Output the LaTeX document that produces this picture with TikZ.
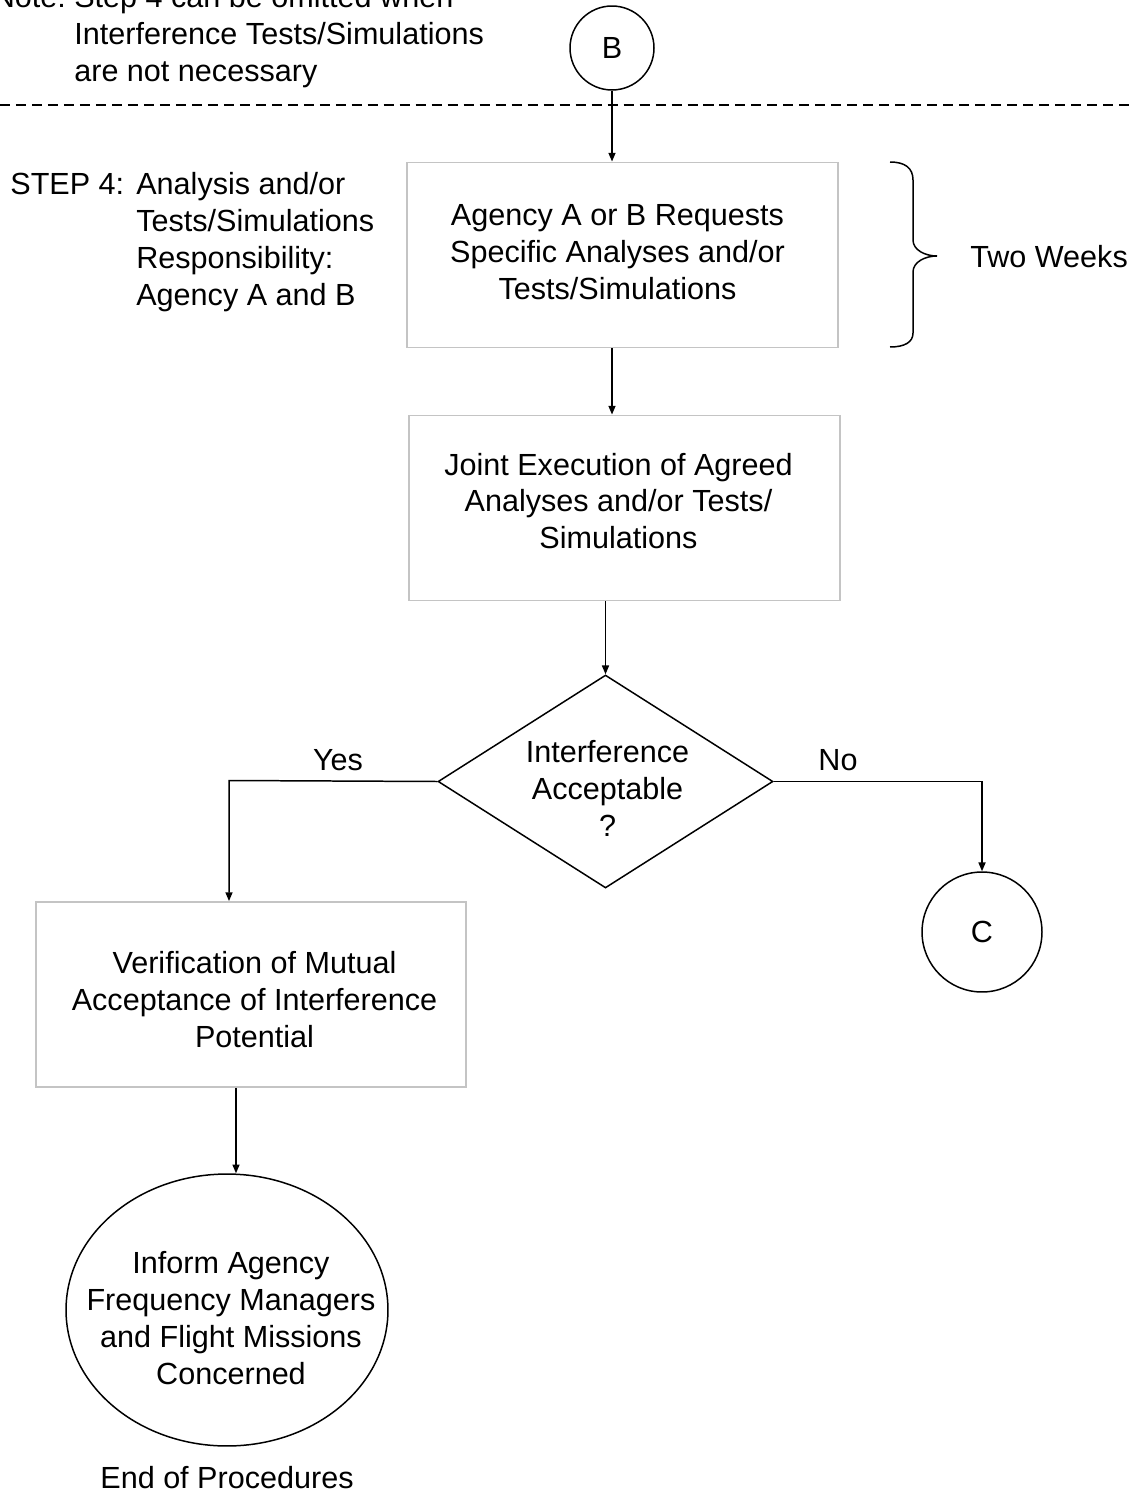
\documentclass[tikz,border=0pt]{standalone}
\usepackage{fontspec}
\setmainfont{Liberation Sans}
\usetikzlibrary{shapes.geometric,arrows.meta}
\definecolor{boxgray}{HTML}{C4C4C4}
\begin{document}
\begin{tikzpicture}[x=0.02cm,y=-0.02cm,
  every node/.style={font=\fontsize{17.4}{21}\selectfont, text=black},
  procbox/.style={draw=boxgray, line width=1.1pt, minimum width=8.62cm, minimum height=3.7cm, inner sep=0pt},
  intext/.style={align=center, inner sep=0pt},
  conn/.style={line width=0.85pt, -{Triangle[length=5pt,width=4pt]}},
  plain/.style={line width=0.85pt},
  connector/.style={draw, circle, line width=0.85pt, inner sep=0pt},
  txt/.style={align=left, inner sep=0pt, anchor=north west}]
\useasboundingbox (0,0) rectangle (1134,1496);

% note and separator
\node[txt] (note) at (74,-15) {\llap{Note:\ }Step 4 can be omitted when\\Interference Tests/Simulations\\are not necessary};
\draw[line width=0.85pt, dash pattern=on 5.7pt off 3.4pt] (0,105) -- (1134,105);

% step label
\node[txt] (step) at (136,172) {\llap{\makebox[2.52cm][l]{STEP 4:}}Analysis and/or\\Tests/Simulations\\Responsibility:\\Agency A and B};

% nodes
\node[connector, minimum size=1.68cm] (B) at (612,48) {B};
\node[procbox, label={[intext, shift={(-5,-3)}]center:Agency A or B Requests\\Specific Analyses and/or\\Tests/Simulations}] (r1) at (622.5,255) {};
\node[procbox, label={[intext, shift={(-6,-7)}]center:Joint Execution of Agreed\\Analyses and/or Tests/\\Simulations}] (r2) at (624.5,508) {};
\node[draw, diamond, line width=0.85pt, minimum width=6.7cm, minimum height=4.26cm, inner sep=0pt,
      label={[intext, shift={(2,7)}]center:Interference\\Acceptable\\?}] (dia) at (605.5,781.5) {};
\node[connector, minimum size=2.4cm] (C) at (982,932) {C};
\node[procbox, minimum width=8.6cm, label={[intext, shift={(3.5,5)}]center:Verification of Mutual\\Acceptance of Interference\\Potential}] (r3) at (251,994.5) {};
\node[draw, ellipse, line width=0.85pt, minimum width=6.44cm, minimum height=5.44cm, inner sep=0pt,
      label={[intext, shift={(4,8)}]center:Inform Agency\\Frequency Managers\\and Flight Missions\\Concerned}] (ell) at (227,1310) {};
\node[inner sep=0pt] (end) at (227,1478) {End of Procedures};

% brace and duration
\draw[plain] (890,162) .. controls (905,162) and (913,168) .. (913,180) -- (913,240)
  .. controls (913,250) and (925,256) .. (937,256)
  .. controls (925,256) and (913,262) .. (913,272) -- (913,333)
  .. controls (913,342) and (905,347) .. (890,347);
\node[inner sep=0pt, anchor=west] (tw) at (970,257) {Two Weeks};

% connectors
\draw[conn] (B.south) -- (B.south |- r1.north);
\draw[conn] (B.south |- r1.south) -- (B.south |- r2.north);
\draw[conn] (dia.north |- r2.south) -- (dia.north);
\coordinate (yc) at (229,780.5);
\draw[conn] (dia.west) -- (yc) -- (yc |- r3.north);
\draw[conn] (dia.east) -| (C.north);
\draw[conn] ([xshift=0.18cm]ell.north |- r3.south) -- ([xshift=0.18cm]ell.north);
\node[inner sep=0pt] (yes) at (338,760) {Yes};
\node[inner sep=0pt] (no) at (838,760) {No};
\end{tikzpicture}
\end{document}
